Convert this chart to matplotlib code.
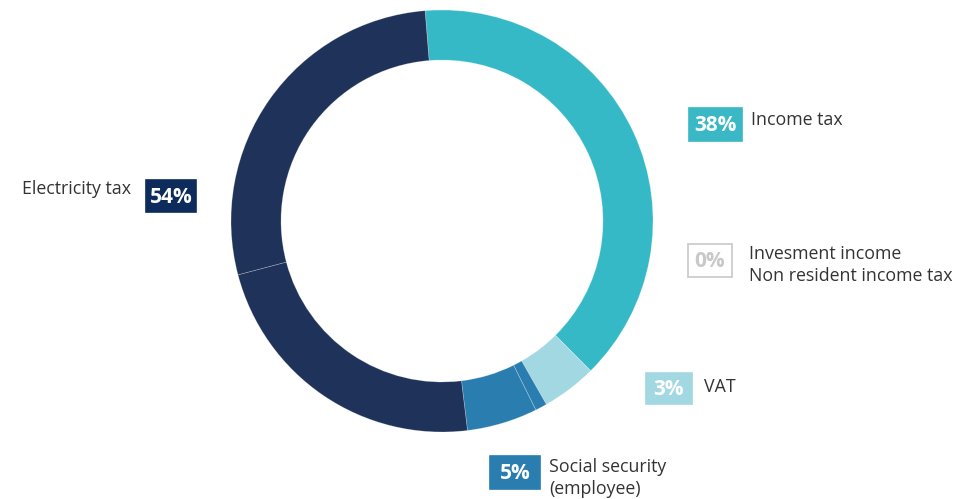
import matplotlib
matplotlib.use("Agg")
import matplotlib.pyplot as plt
from matplotlib.patches import Rectangle

# ---- data ----
slice_names = ["Income tax", "VAT", "Social security (a)", "Social security (b)",
               "Electricity tax (a)", "Electricity tax (b)"]
slice_values = [38.8, 4.2, 0.9, 5.4, 22.8, 27.8]
slice_colors = ["#36B9C6", "#A2D8E2", "#2A7DAF", "#2A7DAF", "#1F3259", "#1F3259"]

label_pcts = ["38%", "0%", "3%", "5%", "54%"]
label_texts = ["Income tax", "Invesment income\nNon resident income tax", "VAT",
               "Social security\n(employee)", "Electricity tax"]
label_box_colors = ["#3AB8C5", "#FFFFFF", "#A2D8E2", "#2A7DAF", "#0D2C5B"]

W, H = 975, 499
fig = plt.figure(figsize=(W / 100, H / 100), dpi=100)
plt.rcParams['font.family'] = ['Open Sans', 'DejaVu Sans']

cx, cy, R = 442, 221, 211
ax = fig.add_axes([(cx - R) / W, (H - cy - R) / H, 2 * R / W, 2 * R / H])
ax.pie(slice_values, colors=slice_colors, startangle=94.6, counterclock=False,
       radius=1.0, wedgeprops=dict(width=0.237, edgecolor=(1, 1, 1, 0.3), linewidth=0.5))
ax.set_xlim(-1, 1)
ax.set_ylim(-1, 1)
ax.set_aspect('equal')
ax.axis('off')


def fx(x):
    return x / W


def fy(y):
    return 1 - y / H


# label layout: (box x0, y0, x1, y1) in pixels, text anchor x, text side
boxes = [(689, 108, 742, 141), (688, 244, 732, 277), (646, 373, 692, 404),
         (490, 456, 540, 489), (146, 180, 196, 212)]
text_pos = [(751, 120, 'left'), (749, 265, 'left'), (704, 387, 'left'),
            (549, 478, 'left'), (131, 189, 'right')]

for pct, txt, bc, (x0, y0, x1, y1), (tx, ty, ha) in zip(label_pcts, label_texts,
                                                         label_box_colors, boxes, text_pos):
    is_zero = pct == "0%"
    rect = Rectangle((fx(x0), fy(y1)), fx(x1) - fx(x0), fy(y0) - fy(y1),
                     transform=fig.transFigure, facecolor=bc,
                     edgecolor="#C8C8C8" if is_zero else bc, linewidth=1.2)
    fig.patches.append(rect)
    fig.text(fx((x0 + x1) / 2), fy((y0 + y1) / 2 + 1), pct, ha='center', va='center',
             fontsize=15, fontweight='bold', color="#C8C8C8" if is_zero else "white")
    fig.text(fx(tx), fy(ty), txt, ha=ha, va='center', fontsize=12.8, color="#333333",
             linespacing=1.22)

fig.savefig("out.png", dpi=100, facecolor="white")
